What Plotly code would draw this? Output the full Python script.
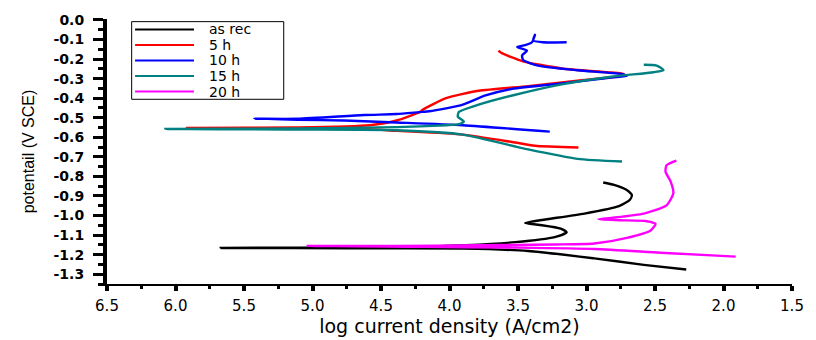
import plotly.graph_objects as go

# Tafel polarization curves (log current density vs. potential)
as_rec_x = [2.272, 2.582, 2.943, 3.426, 3.903, 4.747, 5.670,
            5.108, 4.386, 3.881, 3.520, 3.232, 3.145, 3.188, 3.340, 3.448,
            3.340, 3.015, 2.763, 2.683, 2.669, 2.712, 2.799, 2.878]
as_rec_y = [-1.276, -1.252, -1.219, -1.181, -1.169, -1.167, -1.166,
            -1.164, -1.162, -1.152, -1.136, -1.110, -1.086, -1.067, -1.048, -1.038,
            -1.024, -0.990, -0.952, -0.919, -0.895, -0.867, -0.843, -0.831]

h5_x = [3.059, 3.376, 3.542, 3.903, 4.386, 4.624, 5.108, 5.916,
        5.108, 4.581, 4.386, 4.220, 4.191, 4.025, 3.787, 3.426, 3.066,
        2.748, 2.727, 2.849, 3.181, 3.470, 3.614, 3.643]
h5_y = [-0.652, -0.643, -0.624, -0.586, -0.567, -0.557, -0.555, -0.552,
        -0.550, -0.538, -0.514, -0.471, -0.457, -0.400, -0.362, -0.338, -0.310,
        -0.286, -0.276, -0.267, -0.248, -0.210, -0.171, -0.157]

h10_x = [3.268, 3.903, 4.386, 4.768, 5.108, 5.425,
         5.108, 4.624, 4.386, 4.220, 4.148, 4.025, 3.903, 3.737, 3.542, 3.181,
         2.820, 2.705, 2.748, 3.066, 3.354, 3.462, 3.470, 3.434, 3.506, 3.448,
         3.398, 3.376, 3.390, 3.318, 3.145]
h10_y = [-0.571, -0.538, -0.524, -0.514, -0.510, -0.505,
         -0.505, -0.486, -0.481, -0.471, -0.467, -0.452, -0.433, -0.386, -0.352, -0.324,
         -0.295, -0.286, -0.276, -0.257, -0.233, -0.205, -0.181, -0.157, -0.138, -0.129,
         -0.114, -0.076, -0.105, -0.114, -0.114]

h15_x = [2.741, 3.066, 3.426, 3.903, 4.386, 5.108, 6.074,
         5.108, 4.386, 4.025, 3.932, 3.895, 3.939, 3.932, 3.787, 3.542, 3.181,
         2.820, 2.510, 2.438, 2.488, 2.582]
h15_y = [-0.724, -0.710, -0.662, -0.586, -0.564, -0.560, -0.557,
         -0.555, -0.548, -0.538, -0.533, -0.519, -0.495, -0.471, -0.433, -0.386, -0.329,
         -0.290, -0.267, -0.257, -0.233, -0.229]

h20_x = [1.911, 2.460, 2.943, 3.520, 4.170, 5.035,
         4.386, 3.809, 3.232, 2.943, 2.705, 2.532, 2.496, 2.561, 2.763, 2.914,
         2.820, 2.582, 2.416, 2.366, 2.387, 2.423, 2.416, 2.344]
h20_y = [-1.210, -1.190, -1.171, -1.164, -1.160, -1.155,
         -1.155, -1.152, -1.148, -1.143, -1.114, -1.076, -1.043, -1.029, -1.024, -1.019,
         -1.012, -0.990, -0.948, -0.886, -0.824, -0.776, -0.743, -0.719]

series_names = ["as rec", "5 h", "10 h", "15 h", "20 h"]
series_colors = ["#000000", "#ff0000", "#0000ff", "#008080", "#ff00ff"]
series_data = [(as_rec_x, as_rec_y), (h5_x, h5_y), (h10_x, h10_y),
               (h15_x, h15_y), (h20_x, h20_y)]

x_ticks = [6.5, 6.0, 5.5, 5.0, 4.5, 4.0, 3.5, 3.0, 2.5, 2.0, 1.5]
y_ticks = [0.0, -0.1, -0.2, -0.3, -0.4, -0.5, -0.6, -0.7, -0.8, -0.9,
           -1.0, -1.1, -1.2, -1.3]
y_tick_labels = ["0.0", "-0.1", "-0.2", "-0.3", "-0.4", "-0.5", "-0.6", "-0.7",
                 "-0.8", "-0.9", "-1.0", "-1.1", "-1.2", "-1.3"]

WIDE = "DejaVu Sans"
NARROW = "Liberation Sans"

fig = go.Figure()
for name, color, (xs, ys) in zip(series_names, series_colors, series_data):
    fig.add_trace(go.Scatter(
        x=xs, y=ys, mode="lines", name=name, showlegend=False,
        line=dict(color=color, width=2.4, shape="spline", smoothing=0.6),
    ))

# Compact boxed key in the upper-left corner of the plotting area
key_left, key_right = 0.036, 0.258
key_top, key_bottom = 0.990, 0.697
row_step = (key_top - key_bottom) / 5.0
shapes = [dict(type="rect", xref="paper", yref="paper",
               x0=key_left, x1=key_right, y0=key_bottom, y1=key_top,
               line=dict(color="black", width=1), fillcolor="white", layer="above")]
annotations = []
for i, (name, color) in enumerate(zip(series_names, series_colors)):
    yc = key_top - row_step * (i + 0.5)
    shapes.append(dict(type="line", xref="paper", yref="paper",
                       x0=key_left + 0.005, x1=key_left + 0.091, y0=yc, y1=yc,
                       line=dict(color=color, width=2), layer="above"))
    annotations.append(dict(xref="paper", yref="paper", x=key_left + 0.112, y=yc,
                            xanchor="left", yanchor="middle", text=name,
                            showarrow=False, borderpad=0,
                            font=dict(size=14, family=WIDE)))

fig.update_layout(
    width=816, height=340,
    margin=dict(l=107, r=16, t=13, b=43),
    paper_bgcolor="white", plot_bgcolor="white",
    font=dict(family=WIDE, color="black"),
    showlegend=False,
    shapes=shapes, annotations=annotations,
)

fig.update_xaxes(
    range=[6.5, 1.5], tickvals=x_ticks, tickformat=".1f",
    showgrid=False, zeroline=False,
    showline=True, linecolor="black", linewidth=2,
    ticks="outside", ticklen=5, tickwidth=4, tickcolor="black",
    minor=dict(dtick=0.25, tick0=1.5, ticks="outside", ticklen=3, tickwidth=3,
               tickcolor="black", showgrid=False),
    tickfont=dict(size=15, family=WIDE),
    ticklabelstandoff=2,
    title=dict(text="log current density (A/cm2)", font=dict(size=19, family=WIDE), standoff=0),
)

fig.update_yaxes(
    range=[-1.35, 0.005], tickvals=y_ticks, ticktext=y_tick_labels,
    showgrid=False, zeroline=False,
    showline=True, linecolor="black", linewidth=4,
    ticks="outside", ticklen=10, tickwidth=3, tickcolor="black",
    minor=dict(dtick=0.05, tick0=0, ticks="outside", ticklen=5, tickwidth=3,
               tickcolor="black", showgrid=False),
    tickfont=dict(size=14, family=WIDE, weight="bold"),
    ticklabelstandoff=6,
    title=dict(text="potentail (V SCE)", font=dict(size=16, family=NARROW), standoff=16),
)

fig.write_html("out.html")
